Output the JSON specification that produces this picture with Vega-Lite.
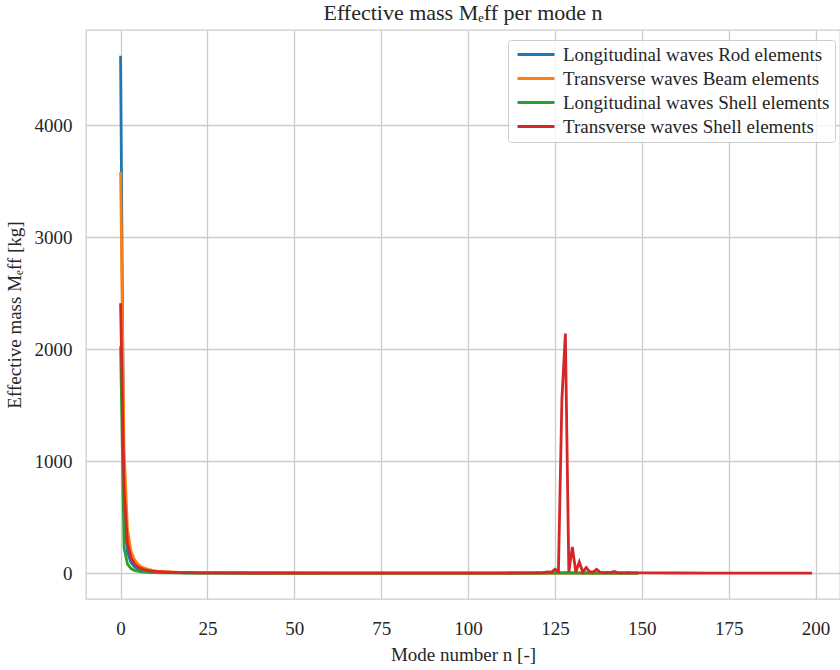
{
  "$schema": "https://vega.github.io/schema/vega-lite/v6.json",
  "width": 754,
  "height": 569,
  "autosize": "none",
  "padding": {"left": 86, "top": 30, "right": 0, "bottom": 71},
  "background": "white",
  "config": {
    "font": "Liberation Serif",
    "view": {"stroke": "#cccccc", "strokeWidth": 1.3},
    "axis": {
      "domain": false,
      "ticks": false,
      "grid": true,
      "gridColor": "#cccccc",
      "gridWidth": 1.3,
      "labelFontSize": 19,
      "labelColor": "#262626",
      "titleFontSize": 19,
      "titleColor": "#262626",
      "titleFontWeight": "normal",
      "labelFont": "Liberation Serif",
      "titleFont": "Liberation Serif"
    }
  },
  "title": {
    "text": "Effective mass Mₑff per mode n",
    "fontSize": 22,
    "fontWeight": "normal",
    "color": "#262626",
    "font": "Liberation Serif",
    "offset": 5
  },
  "data": {
    "values": [
      {"s": "Longitudinal waves Rod elements", "n": 0, "m": 4620},
      {"s": "Longitudinal waves Rod elements", "n": 1, "m": 513},
      {"s": "Longitudinal waves Rod elements", "n": 2, "m": 185},
      {"s": "Longitudinal waves Rod elements", "n": 3, "m": 94},
      {"s": "Longitudinal waves Rod elements", "n": 4, "m": 57},
      {"s": "Longitudinal waves Rod elements", "n": 5, "m": 38},
      {"s": "Longitudinal waves Rod elements", "n": 6, "m": 27},
      {"s": "Longitudinal waves Rod elements", "n": 7, "m": 20.5},
      {"s": "Longitudinal waves Rod elements", "n": 8, "m": 16},
      {"s": "Longitudinal waves Rod elements", "n": 9, "m": 12.8},
      {"s": "Longitudinal waves Rod elements", "n": 10, "m": 10.5},
      {"s": "Longitudinal waves Rod elements", "n": 11, "m": 8.7},
      {"s": "Longitudinal waves Rod elements", "n": 12, "m": 7.4},
      {"s": "Longitudinal waves Rod elements", "n": 13, "m": 6.3},
      {"s": "Longitudinal waves Rod elements", "n": 14, "m": 5.5},
      {"s": "Longitudinal waves Rod elements", "n": 15, "m": 4.8},
      {"s": "Longitudinal waves Rod elements", "n": 16, "m": 4.2},
      {"s": "Longitudinal waves Rod elements", "n": 17, "m": 3.8},
      {"s": "Longitudinal waves Rod elements", "n": 18, "m": 3.4},
      {"s": "Longitudinal waves Rod elements", "n": 19, "m": 3.0},
      {"s": "Longitudinal waves Rod elements", "n": 20, "m": 2.7},
      {"s": "Longitudinal waves Rod elements", "n": 22, "m": 2.3},
      {"s": "Longitudinal waves Rod elements", "n": 25, "m": 1.8},
      {"s": "Longitudinal waves Rod elements", "n": 30, "m": 1.2},
      {"s": "Longitudinal waves Rod elements", "n": 40, "m": 0.7},
      {"s": "Longitudinal waves Rod elements", "n": 60, "m": 0.3},
      {"s": "Longitudinal waves Rod elements", "n": 80, "m": 0.2},
      {"s": "Longitudinal waves Rod elements", "n": 100, "m": 0.1},
      {"s": "Longitudinal waves Rod elements", "n": 149, "m": 0.05},

      {"s": "Transverse waves Beam elements", "n": 0, "m": 3585},
      {"s": "Transverse waves Beam elements", "n": 1, "m": 1100},
      {"s": "Transverse waves Beam elements", "n": 2, "m": 385},
      {"s": "Transverse waves Beam elements", "n": 3, "m": 196},
      {"s": "Transverse waves Beam elements", "n": 4, "m": 119},
      {"s": "Transverse waves Beam elements", "n": 5, "m": 80},
      {"s": "Transverse waves Beam elements", "n": 6, "m": 57},
      {"s": "Transverse waves Beam elements", "n": 7, "m": 43},
      {"s": "Transverse waves Beam elements", "n": 8, "m": 33},
      {"s": "Transverse waves Beam elements", "n": 9, "m": 26},
      {"s": "Transverse waves Beam elements", "n": 10, "m": 21},
      {"s": "Transverse waves Beam elements", "n": 11, "m": 17.5},
      {"s": "Transverse waves Beam elements", "n": 12, "m": 14.7},
      {"s": "Transverse waves Beam elements", "n": 13, "m": 12.5},
      {"s": "Transverse waves Beam elements", "n": 14, "m": 10.8},
      {"s": "Transverse waves Beam elements", "n": 15, "m": 9.4},
      {"s": "Transverse waves Beam elements", "n": 16, "m": 8.2},
      {"s": "Transverse waves Beam elements", "n": 17, "m": 7.3},
      {"s": "Transverse waves Beam elements", "n": 18, "m": 6.5},
      {"s": "Transverse waves Beam elements", "n": 19, "m": 5.8},
      {"s": "Transverse waves Beam elements", "n": 20, "m": 5.2},
      {"s": "Transverse waves Beam elements", "n": 22, "m": 4.3},
      {"s": "Transverse waves Beam elements", "n": 25, "m": 3.4},
      {"s": "Transverse waves Beam elements", "n": 30, "m": 2.4},
      {"s": "Transverse waves Beam elements", "n": 40, "m": 1.3},
      {"s": "Transverse waves Beam elements", "n": 60, "m": 0.6},
      {"s": "Transverse waves Beam elements", "n": 80, "m": 0.35},
      {"s": "Transverse waves Beam elements", "n": 100, "m": 0.2},
      {"s": "Transverse waves Beam elements", "n": 149, "m": 0.1},

      {"s": "Longitudinal waves Shell elements", "n": 0, "m": 2027},
      {"s": "Longitudinal waves Shell elements", "n": 1, "m": 225},
      {"s": "Longitudinal waves Shell elements", "n": 2, "m": 81},
      {"s": "Longitudinal waves Shell elements", "n": 3, "m": 41},
      {"s": "Longitudinal waves Shell elements", "n": 4, "m": 25},
      {"s": "Longitudinal waves Shell elements", "n": 5, "m": 17},
      {"s": "Longitudinal waves Shell elements", "n": 6, "m": 12},
      {"s": "Longitudinal waves Shell elements", "n": 7, "m": 9},
      {"s": "Longitudinal waves Shell elements", "n": 8, "m": 7},
      {"s": "Longitudinal waves Shell elements", "n": 9, "m": 5.6},
      {"s": "Longitudinal waves Shell elements", "n": 10, "m": 4.6},
      {"s": "Longitudinal waves Shell elements", "n": 12, "m": 3.2},
      {"s": "Longitudinal waves Shell elements", "n": 15, "m": 2.1},
      {"s": "Longitudinal waves Shell elements", "n": 20, "m": 1.2},
      {"s": "Longitudinal waves Shell elements", "n": 25, "m": 0.8},
      {"s": "Longitudinal waves Shell elements", "n": 30, "m": 0.55},
      {"s": "Longitudinal waves Shell elements", "n": 40, "m": 0.3},
      {"s": "Longitudinal waves Shell elements", "n": 60, "m": 0.15},
      {"s": "Longitudinal waves Shell elements", "n": 100, "m": 0.05},
      {"s": "Longitudinal waves Shell elements", "n": 120, "m": 0.5},
      {"s": "Longitudinal waves Shell elements", "n": 125, "m": 2},
      {"s": "Longitudinal waves Shell elements", "n": 128, "m": 4},
      {"s": "Longitudinal waves Shell elements", "n": 131, "m": 2},
      {"s": "Longitudinal waves Shell elements", "n": 135, "m": 1},
      {"s": "Longitudinal waves Shell elements", "n": 149, "m": 0.03},

      {"s": "Transverse waves Shell elements", "n": 0, "m": 2411},
      {"s": "Transverse waves Shell elements", "n": 1, "m": 740},
      {"s": "Transverse waves Shell elements", "n": 2, "m": 265},
      {"s": "Transverse waves Shell elements", "n": 3, "m": 135},
      {"s": "Transverse waves Shell elements", "n": 4, "m": 82},
      {"s": "Transverse waves Shell elements", "n": 5, "m": 55},
      {"s": "Transverse waves Shell elements", "n": 6, "m": 40},
      {"s": "Transverse waves Shell elements", "n": 7, "m": 30},
      {"s": "Transverse waves Shell elements", "n": 8, "m": 23},
      {"s": "Transverse waves Shell elements", "n": 9, "m": 18.5},
      {"s": "Transverse waves Shell elements", "n": 10, "m": 15},
      {"s": "Transverse waves Shell elements", "n": 11, "m": 12.5},
      {"s": "Transverse waves Shell elements", "n": 12, "m": 10.5},
      {"s": "Transverse waves Shell elements", "n": 13, "m": 9},
      {"s": "Transverse waves Shell elements", "n": 14, "m": 7.8},
      {"s": "Transverse waves Shell elements", "n": 15, "m": 6.8},
      {"s": "Transverse waves Shell elements", "n": 16, "m": 6},
      {"s": "Transverse waves Shell elements", "n": 17, "m": 5.3},
      {"s": "Transverse waves Shell elements", "n": 18, "m": 4.7},
      {"s": "Transverse waves Shell elements", "n": 19, "m": 4.2},
      {"s": "Transverse waves Shell elements", "n": 20, "m": 3.8},
      {"s": "Transverse waves Shell elements", "n": 22, "m": 3.1},
      {"s": "Transverse waves Shell elements", "n": 25, "m": 2.4},
      {"s": "Transverse waves Shell elements", "n": 30, "m": 1.7},
      {"s": "Transverse waves Shell elements", "n": 40, "m": 1},
      {"s": "Transverse waves Shell elements", "n": 60, "m": 0.5},
      {"s": "Transverse waves Shell elements", "n": 80, "m": 0.4},
      {"s": "Transverse waves Shell elements", "n": 100, "m": 0.5},
      {"s": "Transverse waves Shell elements", "n": 110, "m": 0.8},
      {"s": "Transverse waves Shell elements", "n": 115, "m": 1.5},
      {"s": "Transverse waves Shell elements", "n": 118, "m": 2},
      {"s": "Transverse waves Shell elements", "n": 119, "m": 3},
      {"s": "Transverse waves Shell elements", "n": 120, "m": 4},
      {"s": "Transverse waves Shell elements", "n": 121, "m": 3},
      {"s": "Transverse waves Shell elements", "n": 122, "m": 6},
      {"s": "Transverse waves Shell elements", "n": 123, "m": 10},
      {"s": "Transverse waves Shell elements", "n": 124, "m": 8},
      {"s": "Transverse waves Shell elements", "n": 125, "m": 35},
      {"s": "Transverse waves Shell elements", "n": 126, "m": 15},
      {"s": "Transverse waves Shell elements", "n": 127, "m": 1550},
      {"s": "Transverse waves Shell elements", "n": 128, "m": 2140},
      {"s": "Transverse waves Shell elements", "n": 129, "m": 10},
      {"s": "Transverse waves Shell elements", "n": 130, "m": 235},
      {"s": "Transverse waves Shell elements", "n": 131, "m": 10},
      {"s": "Transverse waves Shell elements", "n": 132, "m": 100},
      {"s": "Transverse waves Shell elements", "n": 133, "m": 10},
      {"s": "Transverse waves Shell elements", "n": 134, "m": 50},
      {"s": "Transverse waves Shell elements", "n": 135, "m": 12},
      {"s": "Transverse waves Shell elements", "n": 136, "m": 10},
      {"s": "Transverse waves Shell elements", "n": 137, "m": 35},
      {"s": "Transverse waves Shell elements", "n": 138, "m": 8},
      {"s": "Transverse waves Shell elements", "n": 139, "m": 5},
      {"s": "Transverse waves Shell elements", "n": 140, "m": 6},
      {"s": "Transverse waves Shell elements", "n": 141, "m": 4},
      {"s": "Transverse waves Shell elements", "n": 142, "m": 14},
      {"s": "Transverse waves Shell elements", "n": 143, "m": 4},
      {"s": "Transverse waves Shell elements", "n": 144, "m": 3},
      {"s": "Transverse waves Shell elements", "n": 145, "m": 3},
      {"s": "Transverse waves Shell elements", "n": 146, "m": 5},
      {"s": "Transverse waves Shell elements", "n": 147, "m": 2},
      {"s": "Transverse waves Shell elements", "n": 148, "m": 2},
      {"s": "Transverse waves Shell elements", "n": 150, "m": 1.5},
      {"s": "Transverse waves Shell elements", "n": 160, "m": 1},
      {"s": "Transverse waves Shell elements", "n": 170, "m": 0.5},
      {"s": "Transverse waves Shell elements", "n": 180, "m": 0.4},
      {"s": "Transverse waves Shell elements", "n": 199, "m": 0.3}
    ]
  },
  "mark": {"type": "line", "strokeWidth": 2.8, "clip": true},
  "encoding": {
    "x": {
      "field": "n",
      "type": "quantitative",
      "scale": {"domain": [-9.95, 207.03], "nice": false, "zero": false},
      "axis": {
        "values": [0, 25, 50, 75, 100, 125, 150, 175, 200],
        "format": "d",
        "title": "Mode number n [-]",
        "labelPadding": 20,
        "titlePadding": 7
      }
    },
    "y": {
      "field": "m",
      "type": "quantitative",
      "scale": {"domain": [-231, 4851], "nice": false, "zero": false},
      "axis": {
        "values": [0, 1000, 2000, 3000, 4000],
        "format": "d",
        "title": "Effective mass Mₑff [kg]",
        "labelPadding": 14,
        "titlePadding": 10
      }
    },
    "color": {
      "field": "s",
      "type": "nominal",
      "sort": null,
      "scale": {
        "domain": [
          "Longitudinal waves Rod elements",
          "Transverse waves Beam elements",
          "Longitudinal waves Shell elements",
          "Transverse waves Shell elements"
        ],
        "range": ["#1f77b4", "#ff7f0e", "#2ca02c", "#d62728"]
      },
      "legend": {
        "orient": "none",
        "legendX": 422,
        "legendY": 10,
        "title": null,
        "symbolType": "M-1,0H6.4",
        "symbolSize": 100,
        "symbolStrokeWidth": 2.8,
        "labelFontSize": 19,
        "labelColor": "#262626",
        "labelFont": "Liberation Serif",
        "labelLimit": 400,
        "labelOffset": 31,
        "padding": 5,
        "rowPadding": 4,
        "strokeColor": "#cccccc",
        "fillColor": "rgba(255,255,255,0.8)",
        "cornerRadius": 3
      }
    }
  }
}
